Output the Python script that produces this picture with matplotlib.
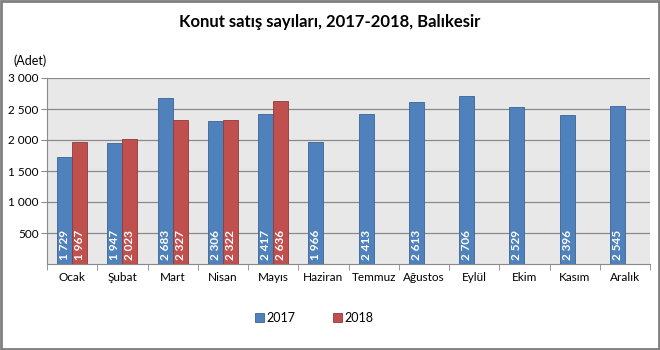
import numpy as np
import matplotlib.pyplot as plt
from matplotlib.patches import Rectangle

months = ['Ocak', 'Şubat', 'Mart', 'Nisan', 'Mayıs', 'Haziran', 'Temmuz',
          'Ağustos', 'Eylül', 'Ekim', 'Kasım', 'Aralık']
sales_2017 = [1729, 1947, 2683, 2306, 2417, 1966, 2413, 2613, 2706, 2529, 2396, 2545]
sales_2018 = [1967, 2023, 2327, 2322, 2636]
yticks = [500, 1000, 1500, 2000, 2500, 3000]

plt.rcParams['font.family'] = ['Lato', 'DejaVu Sans']

fig = plt.figure(figsize=(6.6, 3.5), dpi=100)
ax = fig.add_axes([47 / 660, 1 - 264 / 350, 603 / 660, 186 / 350])

x = np.arange(len(months))
w = 0.3
b1 = ax.bar(x - w / 2, sales_2017, w, color='#4F81BD', edgecolor='#3A6595', lw=0.6,
            label='2017', zorder=3)
b2 = ax.bar(np.arange(len(sales_2018)) + w / 2, sales_2018, w, color='#C0504D',
            edgecolor='#8E3B39', lw=0.6, label='2018', zorder=3)

def fmt(v):
    return f'{v:,}'.replace(',', ' ')

# value labels, rotated, at the foot of each bar
for bars, vals in ((b1, sales_2017), (b2, sales_2018)):
    for r, v in zip(bars, vals):
        ax.text(r.get_x() + r.get_width() / 2, 60, fmt(v), rotation=90,
                ha='center', va='bottom', color='white', fontsize=8.5,
                fontweight='bold', zorder=4)

ax.set_xlim(-0.5, len(months) - 0.5)
ax.set_ylim(0, 3000)
ax.set_facecolor('#E8E8E8')
ax.set_yticks(yticks)
ax.set_yticklabels([fmt(v) for v in yticks], fontsize=8.5)
ax.yaxis.grid(True, color='#8A8A8A', lw=0.9, zorder=1)
ax.set_xticks(x)
ax.set_xticklabels(months, fontsize=8.5)
ax.set_xticks(np.arange(len(months) + 1) - 0.5, minor=True)
ax.tick_params(axis='x', which='major', length=0, pad=6)
ax.tick_params(axis='x', which='minor', length=4, color='#8A8A8A')
ax.tick_params(axis='y', length=4, color='#8A8A8A', pad=2)
for s in ('top', 'right'):
    ax.spines[s].set_visible(False)
for s in ('left', 'bottom'):
    ax.spines[s].set_color('#8A8A8A')

ax.text(0.0, 1.06, '(Adet)', transform=ax.transAxes, ha='right', va='bottom', fontsize=9)
fig.text(0.5, 1 - 22 / 350, 'Konut satış sayıları, 2017-2018, Balıkesir',
         ha='center', va='center', fontsize=12, fontweight='bold')

fig.legend(handles=[b1, b2], loc='center', bbox_to_anchor=(314 / 660, 1 - 318 / 350),
           ncol=2, frameon=False, fontsize=9, handlelength=0.7, handleheight=0.7,
           columnspacing=3.0, handletextpad=0.2)

fig.patches.append(Rectangle((0.002, 0.003), 0.996, 0.994, transform=fig.transFigure,
                             fill=False, edgecolor='#7F7F7F', lw=2))

fig.savefig('out.png', dpi=100)
